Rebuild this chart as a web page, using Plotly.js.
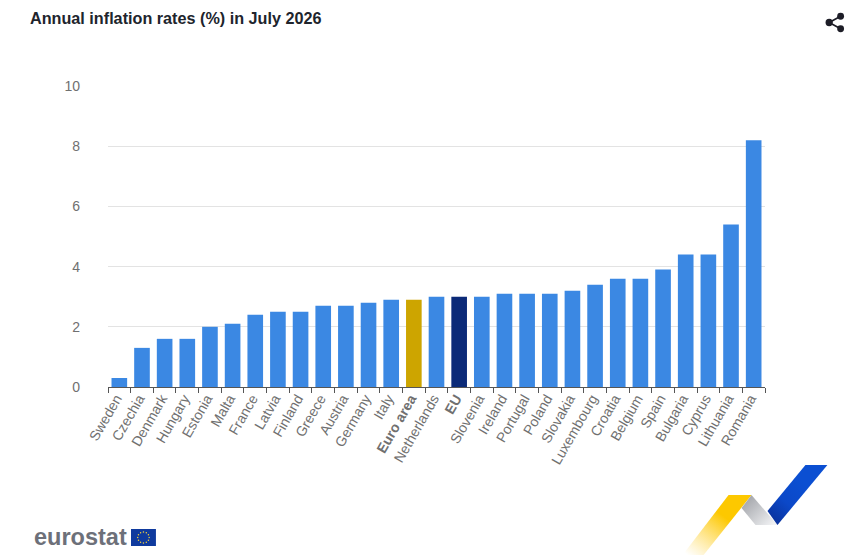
<!DOCTYPE html>
<html><head><meta charset="utf-8">
<script src="https://cdn.plot.ly/plotly-3.0.1.min.js"></script>
<style>html,body{margin:0;padding:0;background:#fff;overflow:hidden}</style>
</head><body><div id="chart" style="width:859px;height:559px"></div>
<script>
const categories = ["Sweden","Czechia","Denmark","Hungary","Estonia","Malta","France","Latvia","Finland","Greece","Austria","Germany","Italy","<b>Euro area</b>","Netherlands","<b>EU</b>","Slovenia","Ireland","Portugal","Poland","Slovakia","Luxembourg","Croatia","Belgium","Spain","Bulgaria","Cyprus","Lithuania","Romania"];
const values = [0.3,1.3,1.6,1.6,2.0,2.1,2.4,2.5,2.5,2.7,2.7,2.8,2.9,2.9,3.0,3.0,3.0,3.1,3.1,3.1,3.2,3.4,3.6,3.6,3.9,4.4,4.4,5.4,8.2];
const barColor = "#3b88e3", euroColor = "#cda500", euColor = "#0b2a78";
const colors = categories.map(c => c.includes("Euro area") ? euroColor : c === "<b>EU</b>" ? euColor : barColor);
const W = 859, H = 559;
const svg = s => "data:image/svg+xml;utf8," + encodeURIComponent(s);
const ribbon = svg(`<svg xmlns="http://www.w3.org/2000/svg" width="150" height="95" viewBox="0 0 150 95">
<defs><linearGradient id="y" gradientUnits="userSpaceOnUse" x1="8" y1="92" x2="40" y2="50"><stop offset="0" stop-color="#ffd23c" stop-opacity="0"/><stop offset="1" stop-color="#fdc800"/></linearGradient>
<linearGradient id="g" gradientUnits="userSpaceOnUse" x1="65" y1="35" x2="92" y2="62"><stop offset="0" stop-color="#a4a6ab"/><stop offset="1" stop-color="#f2f3f5"/></linearGradient>
<linearGradient id="b" gradientUnits="userSpaceOnUse" x1="90" y1="60" x2="125" y2="20"><stop offset="0" stop-color="#0a2f96"/><stop offset="0.5" stop-color="#0b48c8"/><stop offset="1" stop-color="#0b4fd2"/></linearGradient></defs>
<polygon points="2,91 23,91 71,31 48,31" fill="url(#y)"/>
<polygon points="71,31 97,61 75,61 61,44" fill="url(#g)"/>
<polygon points="87,47 97,61 147,1 125,1" fill="url(#b)"/></svg>`);
const flag = svg(`<svg xmlns="http://www.w3.org/2000/svg" width="24" height="17" viewBox="0 0 24 17"><rect width="24" height="17" fill="#0f3a9e"/>${[...Array(12).keys()].map(i=>`<circle cx="${12+5.5*Math.cos(i*Math.PI/6)}" cy="${8.5+5.5*Math.sin(i*Math.PI/6)}" r="0.7" fill="#f4d23c"/>`).join("")}</svg>`);
const share = svg(`<svg xmlns="http://www.w3.org/2000/svg" width="22" height="22" viewBox="0 0 22 22"><path d="M17 4.5 L5 11 L17 17.5" fill="none" stroke="#1d1d27" stroke-width="1.8"/><circle cx="17" cy="4.5" r="3.6" fill="#1d1d27"/><circle cx="5" cy="11" r="3.8" fill="#1d1d27"/><circle cx="17" cy="17.5" r="3.6" fill="#1d1d27"/></svg>`);
const img = (source, x, y, w, h) => ({source, xref:"paper", yref:"paper", xanchor:"left", yanchor:"top", sizing:"stretch", layer:"above",
  x:(x-107.5)/658, y:(387-y)/301, sizex:w/658, sizey:h/301});
Plotly.newPlot("chart", [{
  type:"bar", x:categories, y:values, marker:{color:colors, line:{width:0}}, hoverinfo:"x+y"
}], {
  width:W, height:H, autosize:false, showlegend:false, bargap:0.31,
  paper_bgcolor:"#fff", plot_bgcolor:"#fff",
  margin:{l:107.5, r:93.5, t:86, b:172, pad:0},
  font:{family:"Liberation Sans, Arial, sans-serif", color:"#707070"},
  title:{text:"<b>Annual inflation rates (%) in July 2026</b>", x:30/W, xanchor:"left", y:1-18/H, yanchor:"middle", font:{size:16.2, color:"#20242c", family:"Liberation Sans, Arial, sans-serif"}},
  xaxis:{type:"category", tickangle:-60, tickson:"boundaries", ticks:"outside", ticklen:5, tickcolor:"#555", tickwidth:1, showline:true, linecolor:"#555", linewidth:1, showgrid:false, tickfont:{size:14, color:"#707070"}, ticklabelshift:-3, ticklabelstandoff:-3, automargin:false},
  yaxis:{range:[0,10], tickvals:[0,2,4,6,8,10], ticktext:["0","2","4","6","8","10"], showline:false, gridcolor:"#e3e3e3", gridwidth:1, zeroline:false, ticks:"", ticklabelstandoff:27, tickfont:{size:14, color:"#707070"}, automargin:false},
  images:[img(ribbon,681,464,150,95), img(flag,130.5,529,25,17), img(share,825,12,21,21)],
  annotations:[{text:"<b>eurostat</b>", xref:"paper", yref:"paper", x:(31-107.5)/658, y:(387-537)/301, xanchor:"left", yanchor:"middle", showarrow:false, font:{size:23.5, color:"#6d7079", family:"Liberation Sans, Arial, sans-serif"}}]
}, {displayModeBar:false, responsive:false});
</script></body></html>
